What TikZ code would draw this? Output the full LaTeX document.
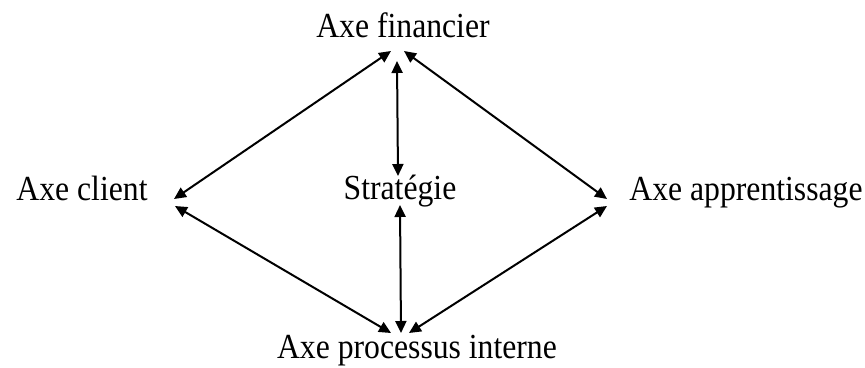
\documentclass[tikz,border=0pt]{standalone}
\usepackage{fontspec}
\setmainfont{Liberation Serif}
\usetikzlibrary{arrows.meta}
\newcommand{\tallt}[1]{\scalebox{0.99}[1.1]{#1}}
\begin{document}
\begin{tikzpicture}[x=1pt,y=-1pt,
  lbl/.style={inner sep=0pt,anchor=base,font=\fontsize{32}{32}\selectfont},
  conn/.style={line width=2pt,{Triangle[length=12pt,width=11pt]}-{Triangle[length=12pt,width=11pt]}}]
\useasboundingbox (0,0) rectangle (865,367);
\node[lbl] (fin) at (403,37) {\tallt{Axe financier}};
\node[lbl] (cli) at (82,200) {\tallt{Axe client}};
\node[lbl] (str) at (400,199) {\tallt{Stratégie}};
\node[lbl] (app) at (746,200) {\tallt{Axe apprentissage}};
\node[lbl] (pro) at (417,358) {\tallt{Axe processus interne}};
% arrow tips
\coordinate (finL) at (391,51);
\coordinate (finM) at (397,61);
\coordinate (finR) at (404,51);
\coordinate (cliT) at (174,199);
\coordinate (cliB) at (175,206);
\coordinate (strT) at (398,176);
\coordinate (strB) at (400,205);
\coordinate (appT) at (607,199);
\coordinate (appB) at (607,206);
\coordinate (proL) at (391,333);
\coordinate (proM) at (401,333);
\coordinate (proR) at (409,333);
\draw[conn] (finL) -- (cliT);
\draw[conn] (finM) -- (strT);
\draw[conn] (finR) -- (appT);
\draw[conn] (cliB) -- (proL);
\draw[conn] (strB) -- (proM);
\draw[conn] (appB) -- (proR);
\end{tikzpicture}
\end{document}
